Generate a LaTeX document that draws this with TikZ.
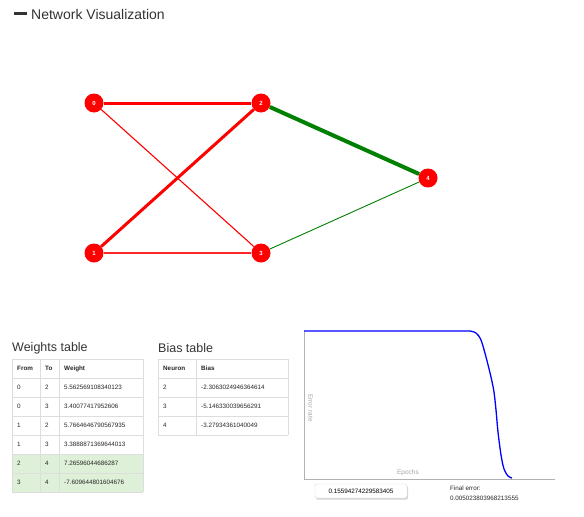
\documentclass[tikz,border=0pt]{standalone}
\usepackage{fontspec}
\setmainfont{Liberation Sans}
\usetikzlibrary{shadows,backgrounds}
\definecolor{gridgray}{RGB}{221,221,221}
\definecolor{okgreen}{RGB}{223,240,216}
\definecolor{edgegreen}{RGB}{0,128,0}
\definecolor{titlegray}{RGB}{51,51,51}
\begin{document}
\begin{tikzpicture}[x=1pt,y=-1pt,
  neuron/.style={circle,fill=red,minimum size=19pt,inner sep=0pt,text=white,font=\fontsize{6}{7}\selectfont\bfseries},
  redthick/.style={red,line width=3pt},
  redthin/.style={red,line width=1.1pt},
  redmid/.style={red!85!white,line width=2pt},
  greenthick/.style={edgegreen,line width=4pt},
  greenthin/.style={edgegreen,line width=0.9pt},
  cell/.style={anchor=west,inner sep=0pt,font=\fontsize{6.3}{7}\selectfont,text=black!85},
  hcell/.style={cell,font=\fontsize{6.3}{7}\selectfont\bfseries},
  tabtitle/.style={anchor=west,inner sep=0pt,font=\fontsize{12.5}{14}\selectfont,text=titlegray},
  grid/.style={draw=gridgray,line width=0.8pt},
  axislbl/.style={inner sep=0pt,font=\fontsize{6.5}{7}\selectfont,text=black!35}
]
\useasboundingbox (0,0) rectangle (584,517);

% title
\fill[titlegray] (14,11.7) rectangle (27,15.3);
\node[anchor=west,inner sep=0pt,font=\fontsize{14}{16}\selectfont,text=titlegray] (title) at (31,14.5) {Network Visualization};

% network
\node[neuron] (n0) at (94,103) {0};
\node[neuron] (n1) at (94,253) {1};
\node[neuron] (n2) at (261,103) {2};
\node[neuron] (n3) at (261,253) {3};
\node[neuron] (n4) at (428,178) {4};
\begin{scope}[on background layer]
\draw[redthick] (n0) -- (n2);
\draw[redthin] (n0) -- (n3);
\draw[redthick] (n1) -- (n2);
\draw[redmid] (n1) -- (n3);
\draw[greenthick] (n2) -- (n4);
\draw[greenthin] (n3) -- (n4);
\end{scope}

% weights table
\node[tabtitle] (wtitle) at (12,348) {Weights table};
\fill[okgreen] (12,454) rectangle (143,492);
\foreach \y in {359,378,397,416,435,454,473,492} \draw[grid] (12,\y) -- (143,\y);
\foreach \x in {12,40,59,143} \draw[grid] (\x,359) -- (\x,492);
\node[hcell] (wh1) at (17,368.5) {From};
\node[hcell] (wh2) at (45,368.5) {To};
\node[hcell] (wh3) at (64,368.5) {Weight};
\foreach \f/\t/\w [count=\i] in {0/2/5.562569108340123,0/3/3.40077417952606,1/2/5.7664646790567935,1/3/3.3888871369644013,2/4/7.26596044686287,3/4/-7.609644801604676}{
  \node[cell] (wf\i) at (17,{368.5+19*\i}) {\f};
  \node[cell] (wt\i) at (45,{368.5+19*\i}) {\t};
  \node[cell] (ww\i) at (64,{368.5+19*\i}) {\w};
}

% bias table
\node[tabtitle] (btitle) at (158,348) {Bias table};
\foreach \y in {359,378,397,416,435} \draw[grid] (158,\y) -- (288,\y);
\foreach \x in {158,196,288} \draw[grid] (\x,359) -- (\x,435);
\node[hcell] (bh1) at (163,368.5) {Neuron};
\node[hcell] (bh2) at (201,368.5) {Bias};
\foreach \n/\b [count=\i] in {2/-2.3063024946364614,3/-5.146330039656291,4/-3.27934361040049}{
  \node[cell] (bn\i) at (163,{368.5+19*\i}) {\n};
  \node[cell] (bb\i) at (201,{368.5+19*\i}) {\b};
}

% chart
\draw[black!30,line width=0.9pt] (304,331) -- (304,479) -- (555,479);
\draw[blue,line width=1.3pt] (304,331) -- (470,331)
  plot[smooth] coordinates {(470,331) (476,333) (481,340) (486,357) (491,377) (494,392) (496,410) (498,432) (501,455) (504,469) (508,476) (512,478)};
\node[axislbl,rotate=-90] (ylbl) at (310.5,408) {Error rate};
\node[axislbl] (xlbl) at (408,473) {Epochs};

% value box
\node[draw=black!15,fill=white,rounded corners=1.5pt,drop shadow={shadow xshift=1pt,shadow yshift=-1.5pt,opacity=0.35},minimum width=92pt,minimum height=14pt,inner sep=0pt,font=\fontsize{6.3}{7}\selectfont] (valbox) at (361,491) {0.15594274229583405};

\node[cell] (ferr) at (450,488) {Final error:};
\node[cell] (fval) at (450,498) {0.005023803968213555};
\end{tikzpicture}
\end{document}
